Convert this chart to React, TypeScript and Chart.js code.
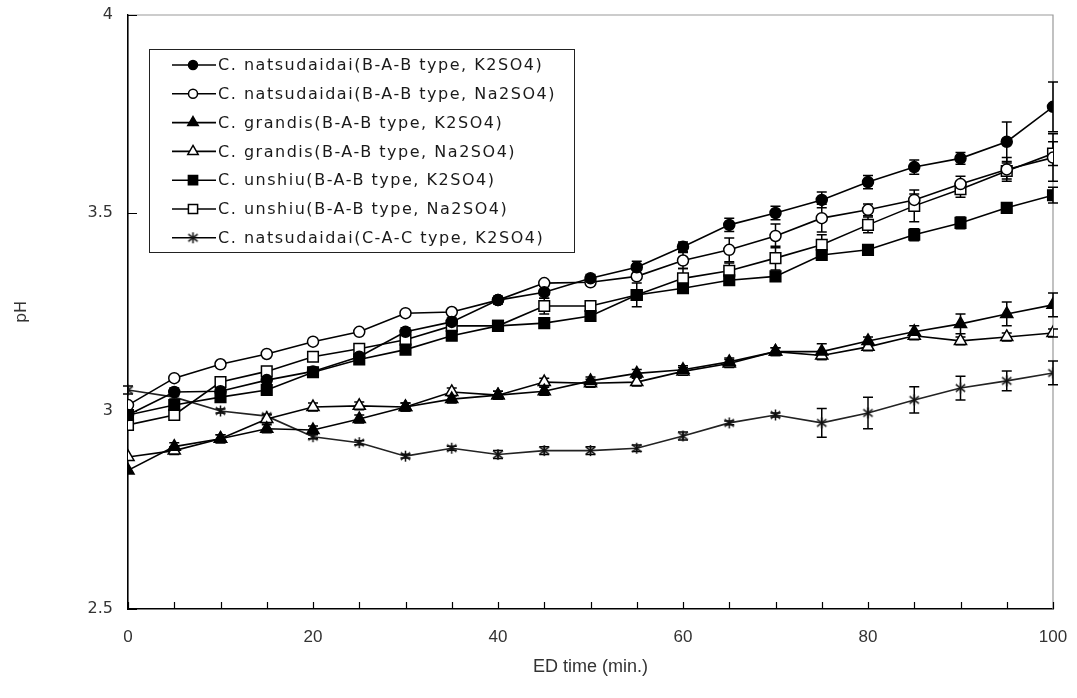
import React, { useEffect, useRef } from "react";
import { Chart, registerables } from "chart.js";

Chart.register(...registerables);

// ---------- data ----------
const times = [0, 5, 10, 15, 20, 25, 30, 35, 40, 45, 50, 55, 60, 65, 70, 75, 80, 85, 90, 95, 100];

const labels = [
  "C. natsudaidai(B-A-B type, K2SO4)",
  "C. natsudaidai(B-A-B type, Na2SO4)",
  "C. grandis(B-A-B type, K2SO4)",
  "C. grandis(B-A-B type, Na2SO4)",
  "C. unshiu(B-A-B type, K2SO4)",
  "C. unshiu(B-A-B type, Na2SO4)",
  "C. natsudaidai(C-A-C type, K2SO4)",
];

const natsuBAB_K = [2.99, 3.048, 3.05, 3.078, 3.1, 3.137, 3.2, 3.225, 3.28, 3.3, 3.335, 3.363, 3.415, 3.47, 3.5, 3.533, 3.578, 3.616, 3.638, 3.68, 3.768];
const natsuBAB_Na = [3.015, 3.083, 3.118, 3.144, 3.175, 3.2, 3.247, 3.25, 3.28, 3.323, 3.325, 3.34, 3.38, 3.407, 3.442, 3.487, 3.508, 3.533, 3.573, 3.61, 3.64];
const grandisBAB_K = [2.85, 2.91, 2.93, 2.955, 2.952, 2.98, 3.01, 3.03, 3.04, 3.05, 3.076, 3.095, 3.104, 3.124, 3.15, 3.15, 3.177, 3.2, 3.22, 3.245, 3.268];
const grandisBAB_Na = [2.884, 2.9, 2.93, 2.98, 3.01, 3.013, 3.01, 3.048, 3.04, 3.073, 3.07, 3.073, 3.1, 3.12, 3.15, 3.14, 3.162, 3.19, 3.177, 3.187, 3.197];
const unshiuBAB_K = [2.99, 3.015, 3.035, 3.053, 3.098, 3.13, 3.155, 3.19, 3.215, 3.222, 3.24, 3.293, 3.31, 3.33, 3.34, 3.394, 3.407, 3.445, 3.475, 3.513, 3.545];
const unshiuBAB_Na = [2.965, 2.99, 3.073, 3.1, 3.137, 3.157, 3.18, 3.215, 3.215, 3.265, 3.265, 3.293, 3.335, 3.354, 3.386, 3.42, 3.47, 3.518, 3.56, 3.606, 3.65];
const natsuCAC_K = [3.053, 3.035, 3.0, 2.987, 2.935, 2.92, 2.886, 2.906, 2.89, 2.9, 2.9, 2.906, 2.937, 2.97, 2.99, 2.97, 2.995, 3.028, 3.058, 3.076, 3.096];

// standard deviations (error bars)
const natsuBAB_K_err = [0, 0.01, 0.01, 0.01, 0.01, 0.01, 0.01, 0.01, 0.01, 0.015, 0.01, 0.015, 0.012, 0.017, 0.017, 0.02, 0.017, 0.018, 0.015, 0.05, 0.063];
const natsuBAB_Na_err = [0, 0, 0, 0, 0, 0, 0, 0, 0, 0, 0, 0, 0.02, 0.03, 0.03, 0.035, 0.015, 0.015, 0.02, 0.03, 0.06];
const grandisBAB_K_err = [0, 0.01, 0.01, 0.01, 0.01, 0.01, 0.01, 0.01, 0.01, 0.01, 0.01, 0.01, 0.01, 0.01, 0.01, 0.02, 0.01, 0.015, 0.025, 0.03, 0.03];
const grandisBAB_Na_err = [0, 0.01, 0.01, 0.01, 0.01, 0.01, 0.01, 0.01, 0.01, 0.01, 0.01, 0.01, 0.01, 0.01, 0.01, 0.01, 0.01, 0.01, 0.01, 0.01, 0.01];
const unshiuBAB_K_err = [0, 0.01, 0.01, 0.01, 0.01, 0.01, 0.01, 0.01, 0.01, 0.01, 0.01, 0.01, 0.01, 0.01, 0.01, 0.01, 0.012, 0.015, 0.015, 0.012, 0.02];
const unshiuBAB_Na_err = [0, 0, 0, 0, 0, 0, 0, 0, 0.01, 0.02, 0.01, 0.03, 0.025, 0.02, 0.03, 0.025, 0.02, 0.04, 0.02, 0.02, 0.03];
const natsuCAC_K_err = [0.01, 0.005, 0.005, 0.005, 0.005, 0.005, 0.005, 0.005, 0.01, 0.01, 0.01, 0.008, 0.01, 0.005, 0.005, 0.036, 0.04, 0.033, 0.03, 0.025, 0.03];

const xTicksLabelStep = 20;
const xMinorStep = 5;
const yTickStep = 0.5;

// ---------- marker helpers ----------
function makeStar(size: number, color: string) {
  const c = document.createElement("canvas");
  c.width = size;
  c.height = size;
  const g = c.getContext("2d")!;
  g.strokeStyle = color;
  g.lineWidth = 1.5;
  const m = size / 2;
  const r = size / 2 - 1;
  g.beginPath();
  g.moveTo(m, m - r);
  g.lineTo(m, m + r);
  const dx = r * 0.85;
  const dy = r * 0.65;
  g.moveTo(m - dx, m - dy);
  g.lineTo(m + dx, m + dy);
  g.moveTo(m - dx, m + dy);
  g.lineTo(m + dx, m - dy);
  g.stroke();
  return c;
}

type Marker = { style: string; fill: string; radius: number };

function drawMarker(ctx: CanvasRenderingContext2D, m: Marker, x: number, y: number, star: HTMLCanvasElement) {
  ctx.save();
  ctx.lineWidth = 1.5;
  ctx.strokeStyle = "#000";
  ctx.fillStyle = m.fill;
  ctx.beginPath();
  if (m.style === "circle") {
    ctx.arc(x, y, m.radius, 0, Math.PI * 2);
    ctx.fill();
    ctx.stroke();
  } else if (m.style === "rect") {
    const s = m.radius * Math.SQRT1_2;
    ctx.rect(x - s, y - s, 2 * s, 2 * s);
    ctx.fill();
    ctx.stroke();
  } else if (m.style === "triangle") {
    const r = m.radius;
    ctx.moveTo(x, y - r);
    ctx.lineTo(x + r * 0.866, y + r * 0.5);
    ctx.lineTo(x - r * 0.866, y + r * 0.5);
    ctx.closePath();
    ctx.fill();
    ctx.stroke();
  } else {
    ctx.drawImage(star, x - star.width / 2, y - star.height / 2);
  }
  ctx.restore();
}

export default function App() {
  const ref = useRef<HTMLCanvasElement | null>(null);

  useEffect(() => {
    if (!ref.current) return;
    document.body.style.margin = "0";
    const star = makeStar(13, "#111");

    const seriesValues = [natsuBAB_K, natsuBAB_Na, grandisBAB_K, grandisBAB_Na, unshiuBAB_K, unshiuBAB_Na, natsuCAC_K];
    const seriesErr = [natsuBAB_K_err, natsuBAB_Na_err, grandisBAB_K_err, grandisBAB_Na_err, unshiuBAB_K_err, unshiuBAB_Na_err, natsuCAC_K_err];
    const markers: Marker[] = [
      { style: "circle", fill: "#000", radius: 5.5 },
      { style: "circle", fill: "#fff", radius: 5.5 },
      { style: "triangle", fill: "#000", radius: 7 },
      { style: "triangle", fill: "#fff", radius: 7 },
      { style: "rect", fill: "#000", radius: 7.5 },
      { style: "rect", fill: "#fff", radius: 7.5 },
      { style: "star", fill: "#000", radius: 6.5 },
    ];

    const datasets = seriesValues.map((vals, i) => ({
      label: labels[i],
      data: vals.map((v, j) => ({ x: times[j], y: v })),
      borderColor: i === 6 ? "#222" : "#000",
      borderWidth: 1.6,
      backgroundColor: markers[i].fill,
      pointBackgroundColor: markers[i].fill,
      pointBorderColor: "#000",
      pointBorderWidth: 1.5,
      pointRadius: markers[i].radius,
      pointStyle: markers[i].style === "star" ? star : markers[i].style,
      tension: 0,
      fill: false,
    }));

    const errorBars = {
      id: "errorBars",
      beforeDatasetsDraw(chart: any) {
        const { ctx, scales } = chart;
        ctx.save();
        ctx.strokeStyle = "#000";
        ctx.lineWidth = 1.5;
        seriesErr.forEach((errs, i) => {
          errs.forEach((e, j) => {
            if (!e) return;
            const x = scales.x.getPixelForValue(times[j]);
            const y1 = scales.y.getPixelForValue(seriesValues[i][j] + e);
            const y2 = scales.y.getPixelForValue(seriesValues[i][j] - e);
            ctx.beginPath();
            ctx.moveTo(x, y1);
            ctx.lineTo(x, y2);
            ctx.moveTo(x - 5, y1);
            ctx.lineTo(x + 5, y1);
            ctx.moveTo(x - 5, y2);
            ctx.lineTo(x + 5, y2);
            ctx.stroke();
          });
        });
        ctx.restore();
      },
    };

    const frame = {
      id: "frame",
      beforeDatasetsDraw(chart: any) {
        const { ctx, chartArea: a, scales } = chart;
        ctx.save();
        ctx.strokeStyle = "#999";
        ctx.lineWidth = 1.2;
        ctx.beginPath();
        ctx.moveTo(a.left, a.top);
        ctx.lineTo(a.right, a.top);
        ctx.lineTo(a.right, a.bottom);
        ctx.stroke();
        ctx.strokeStyle = "#000";
        ctx.lineWidth = 1.2;
        ctx.beginPath();
        for (let t = 0; t <= 100; t += xMinorStep) {
          const x = Math.round(scales.x.getPixelForValue(t)) + 0.5;
          ctx.moveTo(x, a.bottom);
          ctx.lineTo(x, a.bottom - 7);
        }
        for (let v = 2.5; v <= 4.0001; v += yTickStep) {
          const y = Math.round(scales.y.getPixelForValue(v)) + 0.5;
          ctx.moveTo(a.left, y);
          ctx.lineTo(a.left + 9, y);
        }
        ctx.stroke();
        ctx.restore();
      },
    };

    const legendBox = {
      id: "legendBox",
      afterDraw(chart: any) {
        const { ctx } = chart;
        const left = 149, top = 49, right = 574, bottom = 252;
        ctx.save();
        ctx.fillStyle = "#fff";
        ctx.fillRect(left, top, right - left, bottom - top);
        ctx.strokeStyle = "#222";
        ctx.lineWidth = 1;
        ctx.strokeRect(left + 0.5, top + 0.5, right - left, bottom - top);
        ctx.font = '16px "DejaVu Sans", sans-serif';
        const longest = labels[1];
        const w0 = ctx.measureText(longest).width;
        const spacing = Math.max(0, (338 - w0) / longest.length);
        (ctx as any).letterSpacing = spacing.toFixed(2) + "px";
        ctx.textBaseline = "middle";
        labels.forEach((lab, i) => {
          const y = 65 + i * 28.8;
          ctx.strokeStyle = "#000";
          ctx.lineWidth = 1.6;
          ctx.beginPath();
          ctx.moveTo(172, y);
          ctx.lineTo(216, y);
          ctx.stroke();
          const m = markers[i];
          drawMarker(ctx, { ...m, radius: m.style === "circle" ? 4.5 : m.style === "rect" ? 6.5 : m.style === "triangle" ? 6 : m.radius }, 193, y, star);
          ctx.fillStyle = "#1a1a1a";
          ctx.fillText(lab, 218, y + 1);
        });
        ctx.restore();
      },
    };

    const chart = new Chart(ref.current, {
      type: "line",
      data: { datasets: datasets as any },
      options: {
        animation: false,
        responsive: false,
        maintainAspectRatio: false,
        layout: { padding: { top: 15, right: 24, left: 0, bottom: 0 } },
        plugins: { legend: { display: false }, tooltip: { enabled: false } },
        scales: {
          x: {
            type: "linear",
            min: 0,
            max: 100,
            ticks: {
              stepSize: xTicksLabelStep,
              color: "#333",
              padding: 18,
              font: { family: '"Liberation Sans Narrow", "Liberation Sans", sans-serif', size: 17 },
            },
            grid: { display: false, drawTicks: false },
            border: { color: "#000", width: 1.6 },
            title: {
              display: true,
              text: "ED time (min.)",
              color: "#333",
              padding: { top: 0, bottom: 20 },
              font: { family: '"Liberation Sans Narrow", "Liberation Sans", sans-serif', size: 18 },
            },
            afterFit: (s: any) => {
              s.height = 89;
              s.paddingLeft = 0;
              s.paddingRight = 0;
            },
          },
          y: {
            type: "linear",
            min: 2.5,
            max: 4,
            ticks: {
              stepSize: yTickStep,
              color: "#333",
              padding: 15,
              font: { family: '"DejaVu Sans", sans-serif', size: 16 },
              callback: (v: any) => String(Number(v)),
            },
            grid: { display: false, drawTicks: false },
            border: { color: "#000", width: 1.6 },
            title: {
              display: true,
              text: "pH",
              color: "#333",
              padding: { top: 12, bottom: 0 },
              font: { family: '"DejaVu Sans", sans-serif', size: 16 },
            },
            afterFit: (s: any) => {
              s.width = 128;
              s.paddingTop = 0;
              s.paddingBottom = 0;
            },
          },
        },
      },
      plugins: [frame, errorBars, legendBox],
    });
    return () => chart.destroy();
  }, []);

  return (
    <div style={{ position: "fixed", left: 0, top: 0, width: 1077, height: 698, background: "#fff" }}>
      <canvas ref={ref} width={1077} height={698} style={{ width: 1077, height: 698, display: "block" }} />
    </div>
  );
}
